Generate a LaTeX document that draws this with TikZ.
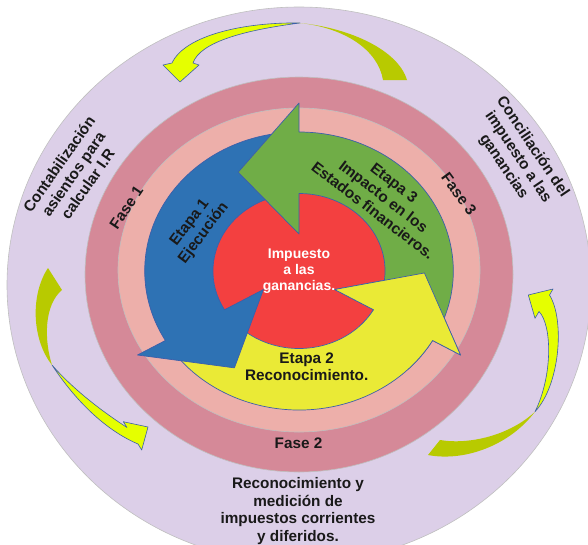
\documentclass[tikz,border=0pt]{standalone}
\usepackage{fontspec}
\setmainfont{Liberation Sans}
\definecolor{bgpurple}{RGB}{220,207,232}
\definecolor{darkrose}{RGB}{213,137,152}
\definecolor{lightpink}{RGB}{237,175,170}
\definecolor{arrblue}{RGB}{46,114,180}
\definecolor{arrgreen}{RGB}{112,173,71}
\definecolor{arryellow}{RGB}{234,234,54}
\definecolor{redc}{RGB}{243,64,64}
\definecolor{olivec}{RGB}{184,202,0}
\definecolor{limec}{RGB}{229,255,0}
\definecolor{outl}{RGB}{60,95,170}
\newcommand{\cyclearrow}[2]{%
 \pgfmathsetmacro{\ta}{#1-119}\pgfmathsetmacro{\tp}{#1+29}%
 \filldraw[fill=#2, draw=outl, line width=0.7pt] (\ta:139) arc[start angle=\ta, end angle=#1, radius=139] -- (#1:168) -- (\tp:113) -- (#1:37) -- (#1:77.5) arc[start angle=#1, end angle=\ta, radius=77.5] -- cycle;}
\begin{document}
\begin{tikzpicture}[x=1pt,y=1pt,line join=round,
  lbl/.style={font=\bfseries\fontsize{15.3}{17.5}\selectfont, align=center, text=black!90, inner sep=1pt},
  ring/.style={draw=black!25, line width=0.6pt},
  olivepart/.style={fill=olivec},
  limepart/.style={fill=limec, draw=outl, line width=0.6pt}]
\useasboundingbox (0,0) rectangle (588,-544);
% rings
\filldraw[ring, fill=bgpurple] (299,-285) ellipse[x radius=292, y radius=278];
\filldraw[ring, fill=darkrose] (299,-274.5) ellipse[x radius=214, y radius=197.5];
\filldraw[ring, fill=lightpink] (299,-270) ellipse[x radius=181, y radius=162];
% inner cycle
\begin{scope}[shift={(299,-271)}, xscale=1.11]
  \fill[redc] (0,0) circle[radius=77.5];
  \cyclearrow{330}{arryellow}
  \cyclearrow{210}{arrblue}
  \cyclearrow{90}{arrgreen}
  \begin{scope}
    \clip (0,0) -- (-45:250) arc[start angle=-45, end angle=5, radius=250] -- cycle;
    \cyclearrow{330}{arryellow}
  \end{scope}
\end{scope}
% outer curved arrows: top
\fill[olivepart] (300,-23) .. controls (350,-28) and (398,-50) .. (407,-80) -- (383,-80) .. controls (378,-50) and (345,-28) .. (300,-23) -- cycle;
\filldraw[limepart] (300,-23) .. controls (245,-22) and (185,-35) .. (172,-63) -- (163,-65) -- (180,-82) -- (199,-65) -- (193,-63) .. controls (200,-42) and (245,-30) .. (300,-23) -- cycle;
% left
\fill[olivepart] (48,-268) .. controls (30,-295) and (32,-340) .. (52,-365) .. controls (44,-340) and (44,-305) .. (62,-290) -- cycle;
\filldraw[limepart] (52,-365) .. controls (75,-400) and (105,-430) .. (138,-444) -- (141.7,-450) -- (148,-427) -- (123.3,-421.7) -- (127,-427.5) .. controls (100,-410) and (72,-388) .. (52,-365) -- cycle;
% right
\fill[olivepart] (428,-455) .. controls (465,-462) and (510,-445) .. (535,-411.7) .. controls (510,-435) and (470,-445) .. (440,-440) -- cycle;
\filldraw[limepart] (535,-411.7) .. controls (560,-385) and (565,-320) .. (549.5,-295) -- (553,-289) -- (528.3,-295) -- (535,-318.3) -- (539,-311.5) .. controls (552,-325) and (553,-375) .. (535,-411.7) -- cycle;
% texts
\node[lbl, text=white, font=\bfseries\fontsize{14}{16.2}\selectfont] (centre) at (299,-271) {Impuesto\\a las\\ganancias.};
\node[lbl, rotate=53] (e1) at (197,-228) {Etapa 1\\Ejecución};
\node[lbl, rotate=-37.5] (e3) at (383.5,-196.5) {Etapa 3\\Impacto en los\\Estados financieros.};
\node[lbl] (e2) at (306.7,-366.7) {Etapa 2\\Reconocimiento.};
\node[lbl, rotate=56] (f1) at (126.3,-207.5) {Fase 1};
\node[lbl, rotate=-53.6] (f3) at (459,-194) {Fase 3};
\node[lbl] (f2) at (298.5,-443) {Fase 2};
\node[lbl, rotate=55] (t1) at (73.3,-174) {Contabilización\\asientos para\\calcular I.R};
\node[lbl, rotate=-56] (t3) at (518,-157) {Conciliación del\\impuesto a las\\ganancias};
\node[lbl] (t2) at (298,-511) {Reconocimiento y\\medición de\\impuestos corrientes\\y diferidos.};
\end{tikzpicture}
\end{document}
